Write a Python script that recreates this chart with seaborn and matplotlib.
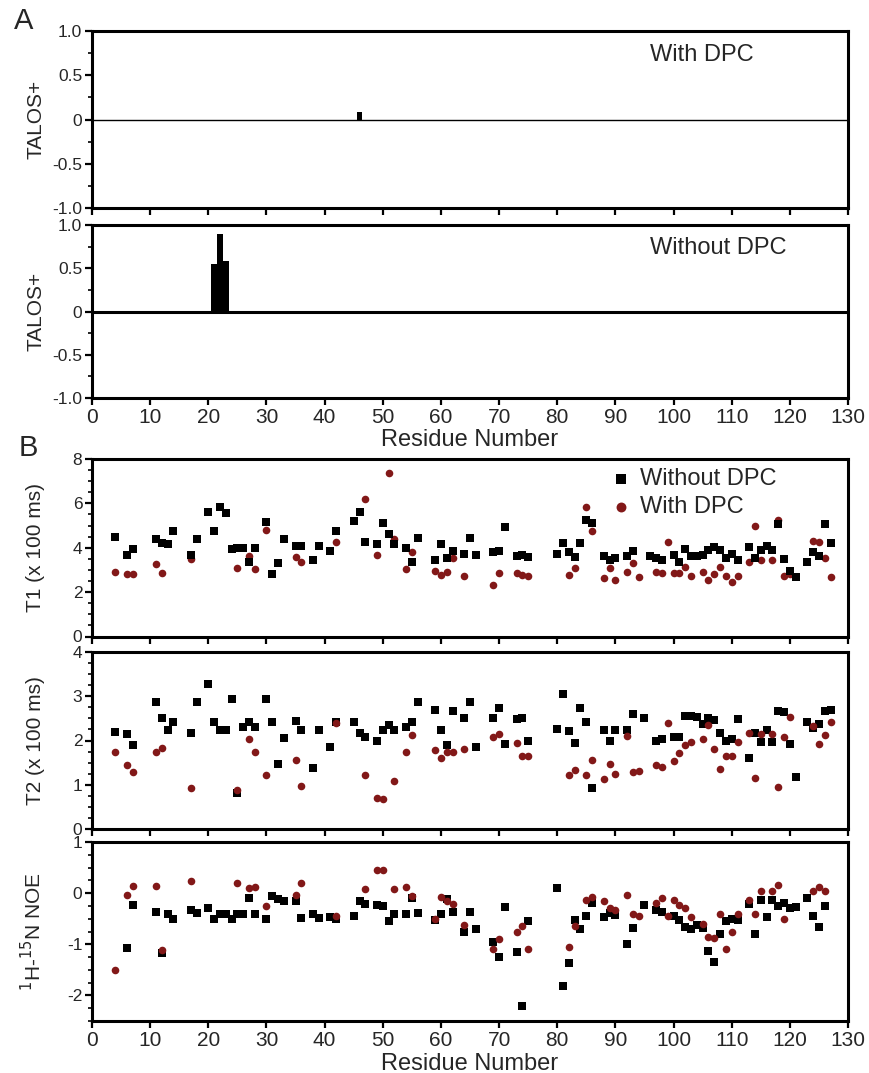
import numpy as np
import pandas as pd
import seaborn as sns
import matplotlib.pyplot as plt
from matplotlib.ticker import MultipleLocator, FixedLocator, FixedFormatter

# ---- Panel A: TALOS+ ----
talos_with_res = [46]
talos_with = [0.08]
talos_without_res = [21, 22, 23]
talos_without = [0.55, 0.90, 0.58]

# ---- Panel B: T1 (x 100 ms) ----
t1_wo_res = [4, 6, 7, 11, 12, 13, 14, 17, 18, 20, 21, 22, 23, 24, 25, 26, 27, 28, 30, 31, 32, 33, 35, 36,
             38, 39, 41, 42, 45, 46, 47, 49, 50, 51, 52, 54, 55, 56, 59, 60, 61, 62, 64, 65, 66, 69, 70,
             71, 73, 74, 75, 80, 81, 82, 83, 84, 85, 86, 88, 89, 90, 92, 93, 96, 97, 98, 100, 101, 102,
             103, 104, 105, 106, 107, 108, 109, 110, 111, 113, 114, 115, 116, 117, 118, 119, 120, 121,
             123, 124, 125, 126, 127]
t1_wo = [4.47, 3.66, 3.93, 4.41, 4.22, 4.16, 4.77, 3.69, 4.41, 5.60, 4.77, 5.83, 5.58, 3.95, 3.97, 3.97,
         3.34, 3.97, 5.14, 2.81, 3.31, 4.38, 4.06, 4.08, 3.45, 4.08, 3.87, 4.77, 5.21, 5.63, 4.28, 4.19,
         5.12, 4.64, 4.17, 3.99, 3.34, 4.43, 3.45, 4.17, 3.54, 3.85, 3.70, 4.43, 3.66, 3.79, 3.85, 4.95,
         3.61, 3.66, 3.57, 3.72, 4.20, 3.83, 3.57, 4.20, 5.23, 5.10, 3.61, 3.45, 3.53, 3.61, 3.87, 3.61,
         3.53, 3.47, 3.68, 3.37, 3.96, 3.64, 3.64, 3.66, 3.91, 4.03, 3.91, 3.54, 3.73, 3.47, 4.02, 3.53,
         3.91, 4.09, 3.91, 5.09, 3.49, 2.96, 2.69, 3.34, 3.81, 3.64, 5.09, 4.20]
t1_w_res = [4, 6, 7, 11, 12, 17, 25, 27, 28, 30, 35, 36, 42, 47, 49, 51, 52, 54, 55, 59, 60, 61, 62, 64,
            69, 70, 73, 74, 75, 82, 83, 85, 86, 88, 89, 90, 92, 93, 94, 97, 98, 99, 100, 101, 102, 103,
            105, 106, 107, 108, 109, 110, 111, 113, 114, 115, 117, 118, 119, 120, 124, 125, 126, 127]
t1_w = [2.90, 2.81, 2.81, 3.25, 2.86, 3.51, 3.10, 3.64, 3.04, 4.80, 3.60, 3.36, 4.28, 6.19, 3.66, 7.37,
        4.40, 3.04, 3.79, 2.93, 2.77, 2.92, 3.52, 2.74, 2.30, 2.87, 2.87, 2.75, 2.74, 2.76, 3.10, 5.83,
        4.76, 2.62, 3.07, 2.56, 2.92, 3.33, 2.69, 2.92, 2.85, 4.26, 2.87, 2.87, 3.14, 2.74, 2.89, 2.56,
        2.80, 3.11, 2.74, 2.47, 2.74, 3.34, 5.00, 3.47, 3.47, 5.23, 2.74, 2.80, 4.32, 4.28, 3.55, 2.69]

# ---- Panel B: T2 (x 100 ms) ----
t2_wo_res = [4, 6, 7, 11, 12, 13, 14, 17, 18, 20, 21, 22, 23, 24, 25, 26, 27, 28, 30, 31, 32, 33, 35, 36,
             38, 39, 41, 42, 45, 46, 47, 49, 50, 51, 52, 54, 55, 56, 59, 60, 61, 62, 64, 65, 66, 69, 70,
             71, 73, 74, 75, 80, 81, 82, 83, 84, 85, 86, 88, 89, 90, 92, 93, 95, 97, 98, 100, 101, 102,
             103, 104, 105, 106, 107, 108, 109, 110, 111, 113, 114, 115, 116, 117, 118, 119, 120, 121,
             123, 124, 125, 126, 127]
t2_wo = [2.20, 2.14, 1.90, 2.88, 2.51, 2.23, 2.42, 2.16, 2.88, 3.28, 2.42, 2.24, 2.23, 2.93, 0.81, 2.31,
         2.41, 2.31, 2.93, 2.41, 1.48, 2.05, 2.44, 2.24, 1.38, 2.24, 1.86, 2.42, 2.42, 2.16, 2.07, 1.99,
         2.23, 2.35, 2.23, 2.31, 2.41, 2.88, 2.68, 2.23, 1.90, 2.66, 2.51, 2.88, 1.85, 2.51, 2.73, 1.92,
         2.48, 2.51, 1.99, 2.26, 3.04, 2.22, 1.95, 2.73, 2.42, 0.93, 2.23, 2.00, 2.23, 2.23, 2.60, 2.51,
         2.00, 2.04, 2.08, 2.08, 2.56, 2.55, 2.52, 2.38, 2.51, 2.47, 2.16, 2.00, 2.04, 2.48, 1.60, 2.17,
         1.97, 2.24, 1.97, 2.66, 2.64, 1.93, 1.17, 2.41, 2.28, 2.37, 2.66, 2.68]
t2_w_res = [4, 6, 7, 11, 12, 17, 25, 27, 28, 30, 35, 36, 42, 47, 49, 50, 52, 54, 55, 59, 60, 61, 62, 64,
            69, 70, 73, 74, 75, 82, 83, 85, 86, 88, 89, 90, 92, 93, 94, 97, 98, 99, 100, 101, 102, 103,
            105, 106, 107, 108, 109, 110, 111, 113, 114, 115, 117, 118, 119, 120, 124, 125, 126, 127]
t2_w = [1.73, 1.44, 1.29, 1.75, 1.84, 0.93, 0.89, 2.04, 1.74, 1.21, 1.57, 0.98, 2.39, 1.23, 0.70, 0.67,
        1.09, 1.74, 2.12, 1.79, 1.61, 1.75, 1.75, 1.80, 2.09, 2.14, 1.95, 1.65, 1.65, 1.23, 1.34, 1.23,
        1.55, 1.14, 1.47, 1.24, 2.10, 1.29, 1.31, 1.44, 1.40, 2.40, 1.53, 1.71, 1.90, 1.97, 2.03, 2.35,
        1.80, 1.36, 1.65, 1.66, 1.97, 2.16, 1.15, 2.14, 2.14, 0.96, 2.09, 2.53, 2.33, 1.93, 2.12, 2.41]

# ---- Panel B: 1H-15N NOE ----
noe_wo_res = [6, 7, 11, 12, 13, 14, 17, 18, 20, 21, 22, 23, 24, 25, 26, 27, 28, 30, 31, 32, 33, 35, 36,
              38, 39, 41, 42, 45, 46, 47, 49, 50, 51, 52, 54, 55, 56, 59, 60, 61, 62, 64, 65, 66, 69, 70,
              71, 73, 74, 75, 80, 81, 82, 83, 84, 85, 86, 88, 89, 90, 92, 93, 95, 97, 98, 100, 101, 102,
              103, 104, 105, 106, 107, 108, 109, 110, 111, 113, 114, 115, 116, 117, 118, 119, 120, 121,
              123, 124, 125, 126]
noe_wo = [-1.07, -0.23, -0.37, -1.17, -0.40, -0.51, -0.33, -0.38, -0.29, -0.51, -0.40, -0.41, -0.51,
          -0.41, -0.41, -0.09, -0.41, -0.51, -0.05, -0.11, -0.16, -0.15, -0.48, -0.40, -0.48, -0.47,
          -0.51, -0.45, -0.15, -0.21, -0.23, -0.26, -0.54, -0.40, -0.41, -0.09, -0.38, -0.53, -0.40,
          -0.12, -0.37, -0.76, -0.37, -0.70, -0.95, -1.25, -0.27, -1.16, -2.20, -0.54, 0.10, -1.81,
          -1.36, -0.52, -0.70, -0.45, -0.20, -0.47, -0.38, -0.43, -1.00, -0.68, -0.24, -0.32, -0.37,
          -0.45, -0.53, -0.67, -0.71, -0.62, -0.68, -1.14, -1.34, -0.80, -0.54, -0.50, -0.52, -0.21,
          -0.79, -0.13, -0.47, -0.13, -0.25, -0.19, -0.30, -0.27, -0.09, -0.44, -0.66, -0.25]
noe_w_res = [4, 6, 7, 11, 12, 17, 25, 27, 28, 30, 35, 36, 42, 47, 49, 50, 52, 54, 55, 59, 60, 61, 62, 64,
             69, 70, 73, 74, 75, 82, 83, 85, 86, 88, 89, 90, 92, 93, 94, 97, 98, 99, 100, 101, 102, 103,
             105, 106, 107, 108, 109, 110, 111, 113, 114, 115, 117, 118, 119, 124, 125, 126]
noe_w = [-1.50, -0.04, 0.13, 0.13, -1.12, 0.24, 0.19, 0.11, 0.12, -0.26, -0.03, 0.20, -0.45, 0.09, 0.46,
         0.45, 0.09, 0.12, -0.05, -0.50, -0.08, -0.16, -0.21, -0.62, -1.10, -0.90, -0.76, -0.64, -1.10,
         -1.05, -0.64, -0.14, -0.08, -0.16, -0.30, -0.33, -0.03, -0.40, -0.44, -0.20, -0.10, -0.45,
         -0.13, -0.24, -0.29, -0.47, -0.61, -0.86, -0.88, -0.41, -1.10, -0.76, -0.40, -0.14, -0.40,
         0.05, 0.05, 0.16, -0.51, 0.04, 0.12, 0.04]

RED = "#821818"

sns.set_theme(style="ticks")
plt.rcParams['font.family'] = ['Liberation Sans', 'DejaVu Sans']
plt.rcParams['axes.unicode_minus'] = False

W, H = 870, 1073
fig = plt.figure(figsize=(W / 100, H / 100), dpi=100)


def make_ax(top, bottom, left=92, right=848):
    return fig.add_axes([left / W, 1 - bottom / H, (right - left) / W, (bottom - top) / H])


def style_ax(ax, xlabels=False):
    ax.set_xlim(0, 130)
    ax.xaxis.set_major_locator(MultipleLocator(10))
    for sp in ax.spines.values():
        sp.set_visible(True)
        sp.set_linewidth(2.2)
        sp.set_color('black')
    ax.tick_params(axis='both', which='major', direction='out', length=5, width=1.6,
                   color='black', pad=2)
    ax.tick_params(axis='both', which='minor', direction='out', length=3, width=1.2, color='black')
    ax.tick_params(axis='x', labelsize=15, labelbottom=xlabels, top=False)
    ax.tick_params(axis='y', labelsize=12.5, right=False)
    ax.set_xlabel('')
    ax.set_ylabel('')
    ax.grid(False)


# ---------- Panel A ----------
axA1 = make_ax(31, 208)
axA2 = make_ax(225, 398)
for ax in (axA1, axA2):
    style_ax(ax, xlabels=(ax is axA2))
    ax.set_ylim(-1, 1)
    ax.yaxis.set_major_locator(FixedLocator([-1, -0.5, 0, 0.5, 1]))
    ax.yaxis.set_major_formatter(FixedFormatter(['-1.0', '-0.5', '0', '0.5', '1.0']))
    ax.yaxis.set_minor_locator(MultipleLocator(0.25))
    ax.set_ylabel('TALOS+', fontsize=15)
    ax.yaxis.set_label_coords(-0.062, 0.5)

axA1.bar(talos_with_res, talos_with, width=0.8, color='black', linewidth=0)
axA1.axhline(0, color='black', lw=1.0)
axA1.text(0.738, 0.865, 'With DPC', transform=axA1.transAxes, fontsize=17, va='center')

axA2.bar(talos_without_res, talos_without, width=1.0, color='black', linewidth=0)
axA2.axhline(0, color='black', lw=2.2)
axA2.text(0.738, 0.865, 'Without DPC', transform=axA2.transAxes, fontsize=17, va='center')
axA2.set_xlabel('Residue Number', fontsize=17, labelpad=2)

# ---------- Panel B ----------
axT1 = make_ax(459, 636.5)
axT2 = make_ax(652, 829)
axN = make_ax(842, 1021)

panels = [
    (axT1, t1_wo_res, t1_wo, t1_w_res, t1_w, 'T1 (x 100 ms)', (0, 8), 2, 0.5, True),
    (axT2, t2_wo_res, t2_wo, t2_w_res, t2_w, 'T2 (x 100 ms)', (0, 4), 1, 0.25, False),
    (axN, noe_wo_res, noe_wo, noe_w_res, noe_w, r'$^{1}$H-$^{15}$N NOE', (-2.5, 1), 1, 0.25, False),
]

for ax, xr, yv, xr2, yv2, lab, ylim, maj, mnr, red_first in panels:
    df_wo = pd.DataFrame({'res': xr, 'val': yv})
    df_w = pd.DataFrame({'res': xr2, 'val': yv2})
    order = [('w', df_w), ('wo', df_wo)] if red_first else [('wo', df_wo), ('w', df_w)]
    for kind, d in order:
        if kind == 'wo':
            sns.scatterplot(data=d, x='res', y='val', ax=ax, marker='s', color='black', s=28,
                            linewidth=0, label='Without DPC', legend=False)
        else:
            sns.scatterplot(data=d, x='res', y='val', ax=ax, marker='o', color=RED, s=30,
                            linewidth=0, label='With DPC', legend=False)
    style_ax(ax, xlabels=(ax is axN))
    ax.set_ylim(*ylim)
    ax.yaxis.set_major_locator(MultipleLocator(maj))
    ax.yaxis.set_minor_locator(MultipleLocator(mnr))
    ax.set_ylabel(lab, fontsize=15)
    ax.yaxis.set_label_coords(-0.062, 0.5)

axN.yaxis.set_major_locator(FixedLocator([-2, -1, 0, 1]))
axN.yaxis.set_major_formatter(FixedFormatter(['-2', '-1', '0', '1']))
axN.set_xlabel('Residue Number', fontsize=17, labelpad=2)

handles, labels = axT1.get_legend_handles_labels()
hl = dict(zip(labels, handles))
axT1.legend([hl['Without DPC'], hl['With DPC']], ['Without DPC', 'With DPC'],
            loc='upper left', bbox_to_anchor=(0.675, 1.0), frameon=False, fontsize=17,
            markerscale=1.3, handlelength=0.8, handletextpad=0.4, borderaxespad=0.2,
            borderpad=0.2, labelspacing=0.25)
for ax in (axT2, axN):
    if ax.get_legend() is not None:
        ax.get_legend().remove()

fig.text(24 / W, 1 - 21 / H, 'A', fontsize=21, ha='center', va='center')
fig.text(28 / W, 1 - 448 / H, 'B', fontsize=21, ha='center', va='center')

fig.savefig('out.png', dpi=100)
